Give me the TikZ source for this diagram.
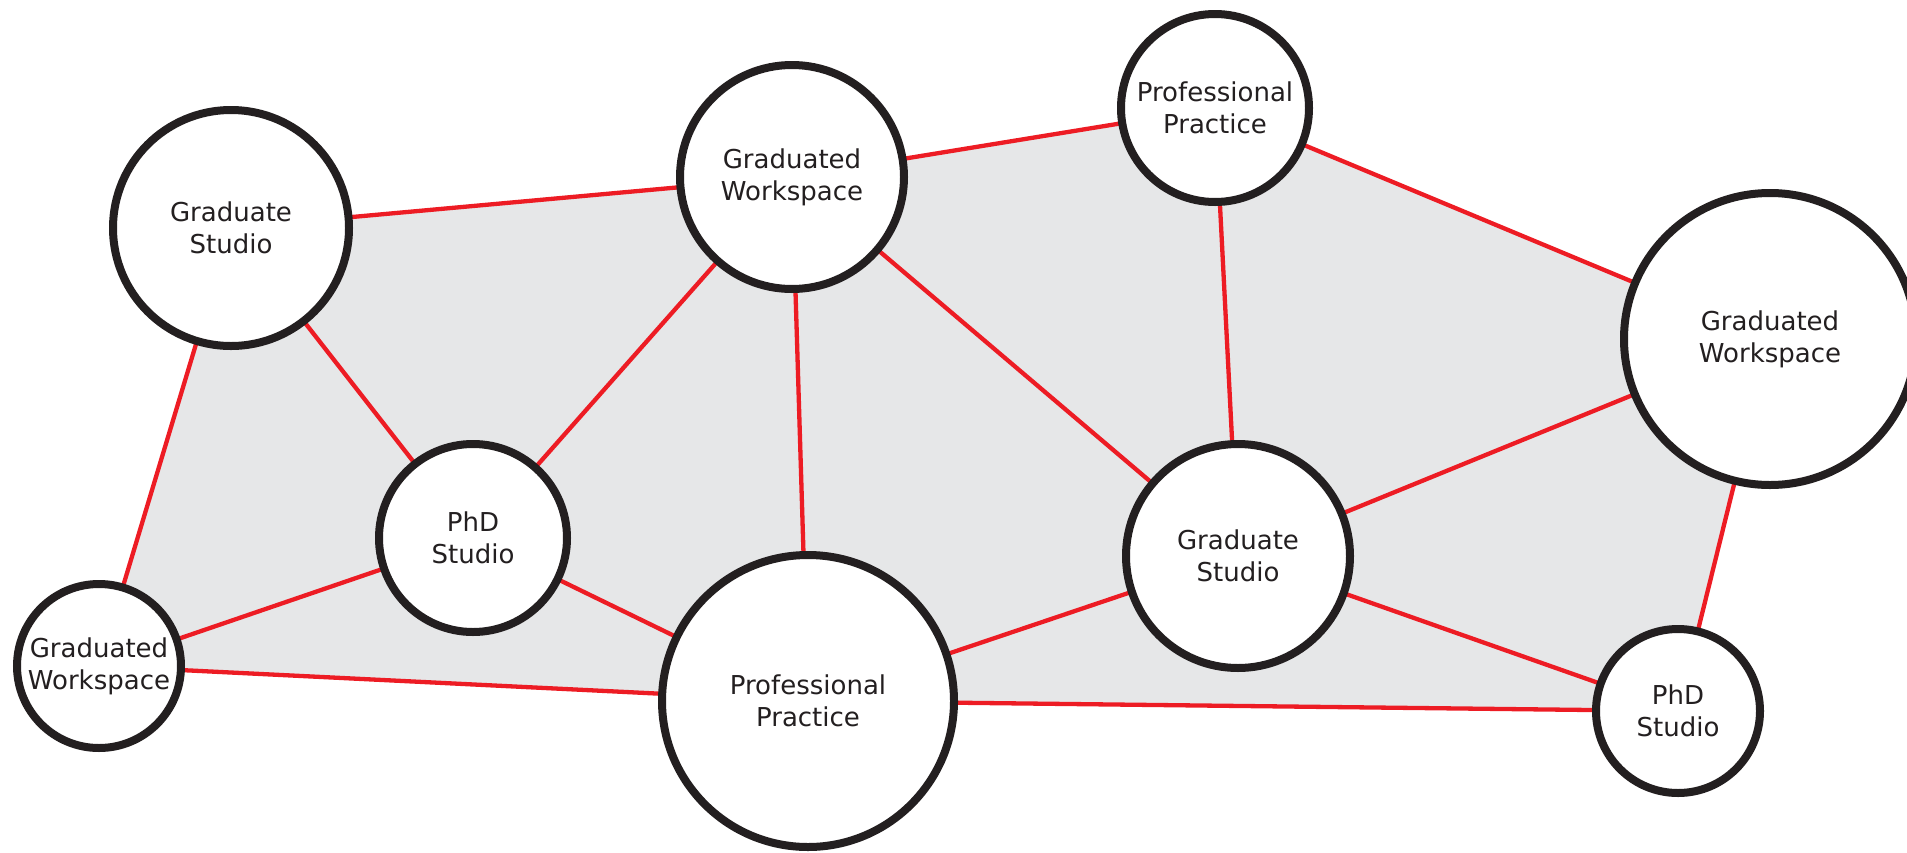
\documentclass[tikz,border=0pt]{standalone}
\usepackage{fontspec}
\setmainfont{DejaVu Sans}
\usetikzlibrary{backgrounds}
\definecolor{edgered}{HTML}{ED1C24}
\definecolor{regiongray}{HTML}{E6E7E8}
\definecolor{ringblack}{HTML}{231F20}
\begin{document}
\begin{tikzpicture}[x=1pt,y=-1pt,
  hub/.style={circle, draw=ringblack, line width=8pt, fill=white, inner sep=0pt,
    align=center, text=ringblack, font=\fontsize{26}{32}\selectfont},
  link/.style={draw=edgered, line width=4.3pt},
  region/.style={fill=regiongray}]
\useasboundingbox (0,0) rectangle (1907,852);
\clip (0,0) rectangle (1907,852);
\node[hub, minimum size=236pt] (gsl) at (231,228) {Graduate\\Studio};
\node[hub, minimum size=224pt] (gwt) at (792,177) {Graduated\\Workspace};
\node[hub, minimum size=188pt] (ppt) at (1215,108) {Professional\\Practice};
\node[hub, minimum size=292pt] (gwr) at (1770,339) {Graduated\\Workspace};
\node[hub, minimum size=188pt] (phdl) at (473,538) {PhD\\Studio};
\node[hub, minimum size=224pt] (gsr) at (1238,556) {Graduate\\Studio};
\node[hub, minimum size=164pt] (gwl) at (99,666) {Graduated\\Workspace};
\node[hub, minimum size=292pt] (ppb) at (808,701) {Professional\\Practice};
\node[hub, minimum size=164pt] (phdr) at (1678,711) {PhD\\Studio};
\begin{scope}[on background layer]
\path[region] (gsl.center) -- (gwt.center) -- (ppt.center) -- (gwr.center)
  -- (phdr.center) -- (ppb.center) -- (gwl.center) -- cycle;
\draw[link] (gsl.center) -- (gwt.center);
\draw[link] (gsl.center) -- (phdl.center);
\draw[link] (gsl.center) -- (gwl.center);
\draw[link] (gwt.center) -- (ppt.center);
\draw[link] (gwt.center) -- (phdl.center);
\draw[link] (gwt.center) -- (ppb.center);
\draw[link] (gwt.center) -- (gsr.center);
\draw[link] (ppt.center) -- (gsr.center);
\draw[link] (ppt.center) -- (gwr.center);
\draw[link] (gwr.center) -- (gsr.center);
\draw[link] (gwr.center) -- (phdr.center);
\draw[link] (phdl.center) -- (gwl.center);
\draw[link] (phdl.center) -- (ppb.center);
\draw[link] (gwl.center) -- (ppb.center);
\draw[link] (ppb.center) -- (gsr.center);
\draw[link] (ppb.center) -- (phdr.center);
\draw[link] (gsr.center) -- (phdr.center);
\end{scope}
\end{tikzpicture}
\end{document}
